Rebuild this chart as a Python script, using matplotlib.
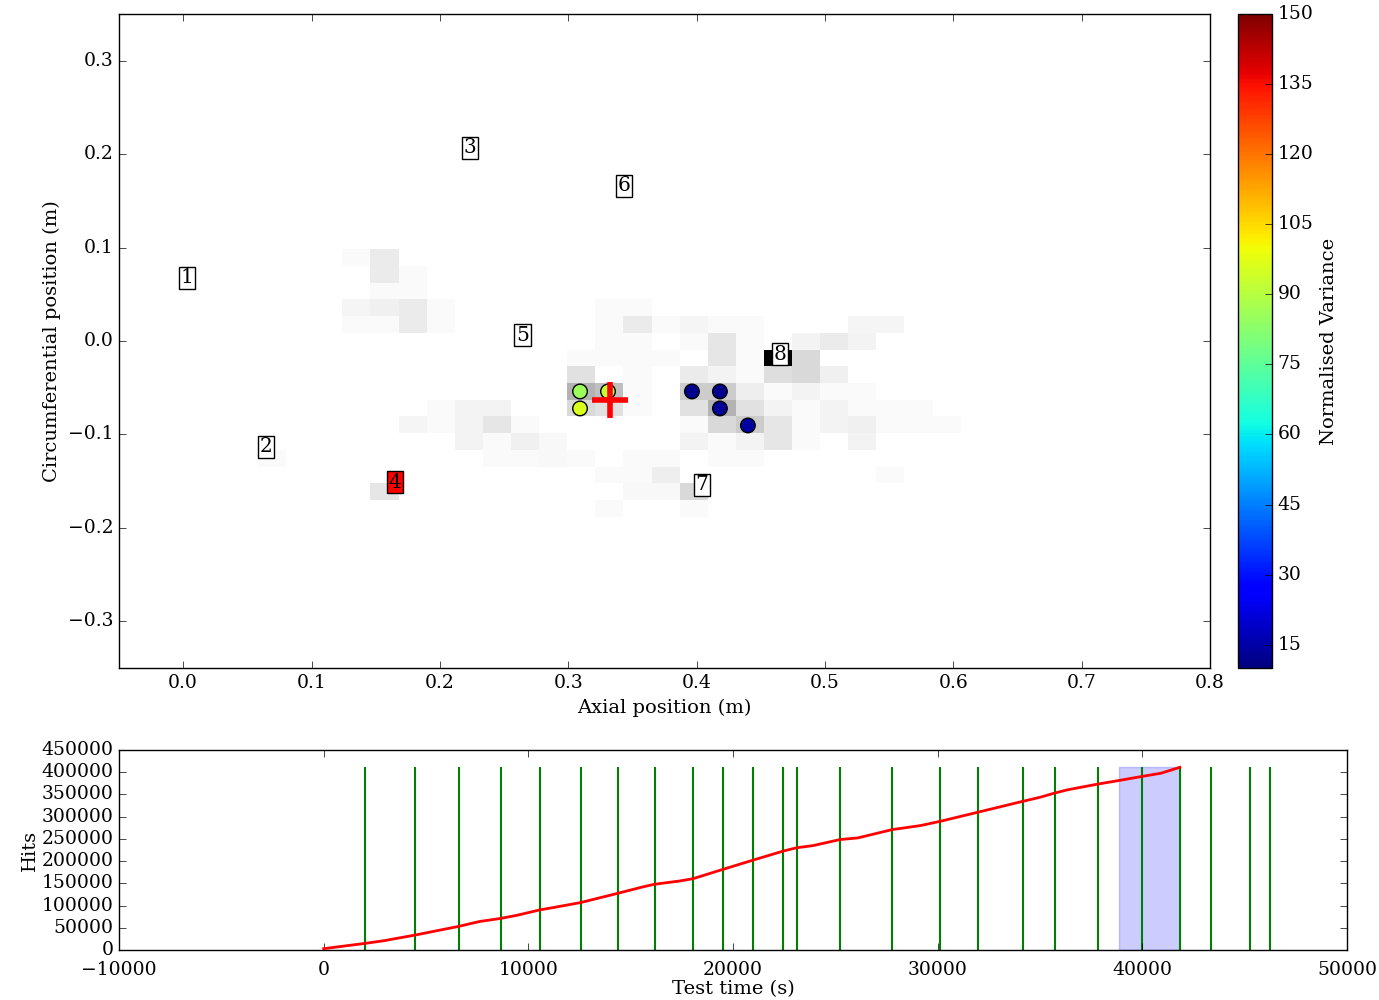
import numpy as np
import matplotlib
matplotlib.use("Agg")
import matplotlib.pyplot as plt

plt.style.use("classic")
plt.rcParams["font.family"] = ["DejaVu Serif"]
plt.rcParams["font.size"] = 13.5
plt.rcParams["axes.labelsize"] = 14
plt.rcParams["figure.facecolor"] = "white"
plt.rcParams["savefig.facecolor"] = "white"
plt.rcParams["xtick.major.size"] = 5
plt.rcParams["ytick.major.size"] = 5

# hit map bins (axial x circumferential), grey level in % of max
bin_x0, bin_dx = 0.0583, 0.0219
bin_ytop, bin_dy = 0.0982, 0.0179
hit_grid = [
    [0, 0, 0, 2, 8, 0, 0, 0, 0, 0, 0, 0, 0, 0, 0, 0, 0, 0, 0, 0, 0, 0, 0, 0, 0],
    [0, 0, 0, 0, 8, 2, 0, 0, 0, 0, 0, 0, 0, 0, 0, 0, 0, 0, 0, 0, 0, 0, 0, 0, 0],
    [0, 0, 0, 0, 2, 2, 0, 0, 0, 0, 0, 0, 0, 0, 0, 0, 0, 0, 0, 0, 0, 0, 0, 0, 0],
    [0, 0, 0, 4, 6, 8, 2, 0, 0, 0, 0, 0, 2, 2, 0, 0, 0, 0, 0, 0, 0, 0, 0, 0, 0],
    [0, 0, 0, 2, 2, 8, 2, 0, 0, 0, 0, 0, 2, 8, 2, 4, 2, 2, 0, 0, 0, 4, 4, 0, 0],
    [0, 0, 0, 0, 0, 0, 0, 0, 0, 0, 0, 0, 2, 2, 0, 2, 10, 2, 0, 5, 8, 5, 0, 0, 0],
    [0, 0, 0, 0, 0, 0, 0, 0, 0, 0, 0, 2, 2, 2, 2, 0, 10, 2, 100, 15, 0, 0, 0, 0, 0],
    [0, 0, 0, 0, 0, 0, 0, 0, 0, 0, 0, 12, 0, 2, 0, 8, 5, 2, 13, 15, 6, 0, 0, 0, 0],
    [0, 0, 0, 0, 0, 0, 0, 0, 0, 0, 0, 30, 25, 2, 0, 20, 20, 7, 2, 5, 2, 2, 0, 0, 0],
    [0, 0, 0, 0, 0, 0, 2, 5, 5, 0, 0, 15, 12, 2, 0, 12, 30, 12, 5, 2, 5, 2, 2, 2, 0],
    [0, 0, 0, 0, 0, 4, 2, 5, 10, 2, 0, 0, 0, 0, 0, 2, 15, 20, 10, 2, 5, 6, 2, 2, 2],
    [0, 0, 0, 0, 0, 0, 0, 5, 2, 6, 3, 0, 0, 0, 0, 5, 2, 5, 10, 2, 0, 5, 0, 0, 0],
    [2, 0, 0, 0, 0, 0, 0, 0, 2, 2, 3, 2, 0, 2, 2, 0, 2, 2, 0, 0, 0, 0, 0, 0, 0],
    [0, 0, 0, 0, 0, 0, 0, 0, 0, 0, 0, 0, 2, 2, 7, 0, 0, 0, 0, 0, 0, 0, 2, 0, 0],
    [0, 0, 0, 0, 10, 0, 0, 0, 0, 0, 0, 0, 0, 3, 3, 15, 0, 0, 0, 0, 0, 0, 0, 0, 0],
    [0, 0, 0, 0, 0, 0, 0, 0, 0, 0, 0, 0, 2, 0, 0, 2, 0, 0, 0, 0, 0, 0, 0, 0, 0],
]

# sensor labels
sensor_ids = ["1", "2", "3", "4", "5", "6", "7", "8"]
sensor_x = [0.0031, 0.0643, 0.2235, 0.1647, 0.2644, 0.3435, 0.4042, 0.4647]
sensor_y = [0.0675, -0.1134, 0.2069, -0.1513, 0.0061, 0.1663, -0.1540, -0.0142]
sensor_face = ["white", "white", "white", "red", "white", "white", "white", "white"]

# located events, coloured by normalised variance
event_x = [0.3092, 0.3310, 0.3092, 0.3964, 0.4182, 0.4182, 0.4400]
event_y = [-0.0540, -0.0540, -0.0722, -0.0540, -0.0540, -0.0722, -0.0904]
event_var = [86, 92, 96, 12, 12, 13, 14]

# source estimate
source_x, source_y = 0.3326, -0.0636

# cumulative hits over test time
test_time = [0, 2026, 2941, 4466, 6580, 7625, 8627, 9477, 10566, 11220, 12549,
             14314, 15577, 16144, 17386, 18039, 19499, 20980, 22440, 23094,
             23921, 25229, 26100, 27778, 29150, 30131, 31939, 34139, 35032,
             35708, 36340, 37800, 38845, 39956, 40915, 41830]
hits = [3000, 14900, 20900, 33600, 53000, 64200, 70900, 78400, 90300, 95500,
        106700, 126900, 141800, 147800, 155200, 160400, 181300, 202200, 222400,
        229900, 235000, 248500, 252200, 270900, 279900, 289600, 309700, 334300,
        344000, 353000, 360400, 373100, 381300, 390300, 397800, 411000]
marker_times = [2030, 4480, 6610, 8650, 10580, 12570, 14360, 16180, 18030,
                19500, 20980, 22440, 23110, 25240, 27790, 30130, 31950, 34150,
                35720, 37830, 39970, 41830, 43360, 45240, 46250]
window = (38850, 41830)

fig = plt.figure(figsize=(13.79, 10), dpi=100)
ax = fig.add_axes([0.0863, 0.332, 0.7911, 0.654])
cax = fig.add_axes([0.8977, 0.332, 0.0247, 0.654])
ax2 = fig.add_axes([0.0863, 0.05, 0.8905, 0.20])

grid = np.array(hit_grid, dtype=float)
nrow, ncol = grid.shape
xe = bin_x0 + bin_dx * np.arange(ncol + 1)
ye = bin_ytop - bin_dy * np.arange(nrow + 1)
ax.pcolormesh(xe, ye, grid, cmap="gray_r", vmin=0, vmax=100, zorder=1)

sc = ax.scatter(event_x, event_y, c=event_var, cmap="jet", vmin=10, vmax=150,
                s=110, edgecolors="black", linewidths=1, zorder=3)
ax.plot(source_x, source_y, "+", color="red", markersize=26, mew=4, zorder=4)

for sid, sx, sy, fc in zip(sensor_ids, sensor_x, sensor_y, sensor_face):
    ax.text(sx, sy, sid, ha="center", va="center", fontsize=14.5, zorder=5,
            bbox=dict(boxstyle="square,pad=0.08", facecolor=fc, edgecolor="black"))

ax.set_xlim(-0.05, 0.8)
ax.set_ylim(-0.35, 0.35)
ax.set_xticks(np.arange(0, 0.81, 0.1))
ax.set_yticks(np.arange(-0.3, 0.31, 0.1))
ax.set_xlabel("Axial position (m)")
ax.set_ylabel("Circumferential position (m)")

cb = fig.colorbar(sc, cax=cax, ticks=np.arange(15, 151, 15))
cb.set_label("Normalised Variance")

ax2.fill_between(window, 0, max(hits), color="blue", alpha=0.2, zorder=1)
ax2.vlines(marker_times, 0, max(hits), color="green", linewidth=1.5, zorder=2)
ax2.plot(test_time, hits, color="red", linewidth=2, zorder=3)
ax2.set_xlim(-10000, 50000)
ax2.set_ylim(0, 450000)
ax2.set_yticks(np.arange(0, 450001, 50000))
ax2.tick_params(axis="x", pad=8)
ax2.set_xlabel("Test time (s)", labelpad=1)
ax2.set_ylabel("Hits", labelpad=2)

fig.savefig("out.png", dpi=100)
